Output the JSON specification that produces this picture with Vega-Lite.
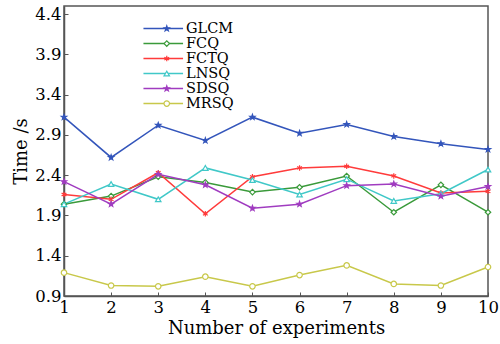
{
 "$schema": "https://vega.github.io/schema/vega-lite/v6.json",
 "width": 424,
 "height": 290,
 "autosize": {"type": "none"},
 "padding": {"left": 64, "top": 6, "right": 12, "bottom": 48},
 "background": "white",
 "config": {
  "view": {"stroke": "#555555", "strokeWidth": 1.5},
  "font": "DejaVu Serif",
  "axis": {
   "domainColor": "#555555", "domainWidth": 1.5, "tickColor": "#555555", "tickSize": -4, "tickWidth": 1,
   "labelFont": "DejaVu Serif", "labelFontSize": 16.5, "labelColor": "black", "labelFlush": false,
   "titleFont": "DejaVu Serif", "titleFontSize": 18, "titleFontWeight": "normal", "titleColor": "black",
   "grid": false
  }
 },
 "data": {"values": [
  {"x": 1, "series": "GLCM", "y": 3.12}, {"x": 2, "series": "GLCM", "y": 2.62}, {"x": 3, "series": "GLCM", "y": 3.02}, {"x": 4, "series": "GLCM", "y": 2.83}, {"x": 5, "series": "GLCM", "y": 3.12},
  {"x": 6, "series": "GLCM", "y": 2.92}, {"x": 7, "series": "GLCM", "y": 3.03}, {"x": 8, "series": "GLCM", "y": 2.88}, {"x": 9, "series": "GLCM", "y": 2.79}, {"x": 10, "series": "GLCM", "y": 2.72},
  {"x": 1, "series": "FCQ", "y": 2.04}, {"x": 2, "series": "FCQ", "y": 2.14}, {"x": 3, "series": "FCQ", "y": 2.38}, {"x": 4, "series": "FCQ", "y": 2.31}, {"x": 5, "series": "FCQ", "y": 2.19},
  {"x": 6, "series": "FCQ", "y": 2.25}, {"x": 7, "series": "FCQ", "y": 2.39}, {"x": 8, "series": "FCQ", "y": 1.94}, {"x": 9, "series": "FCQ", "y": 2.28}, {"x": 10, "series": "FCQ", "y": 1.94},
  {"x": 1, "series": "FCTQ", "y": 2.16}, {"x": 2, "series": "FCTQ", "y": 2.10}, {"x": 3, "series": "FCTQ", "y": 2.43}, {"x": 4, "series": "FCTQ", "y": 1.92}, {"x": 5, "series": "FCTQ", "y": 2.38},
  {"x": 6, "series": "FCTQ", "y": 2.49}, {"x": 7, "series": "FCTQ", "y": 2.51}, {"x": 8, "series": "FCTQ", "y": 2.39}, {"x": 9, "series": "FCTQ", "y": 2.18}, {"x": 10, "series": "FCTQ", "y": 2.20},
  {"x": 1, "series": "LNSQ", "y": 2.04}, {"x": 2, "series": "LNSQ", "y": 2.29}, {"x": 3, "series": "LNSQ", "y": 2.10}, {"x": 4, "series": "LNSQ", "y": 2.49}, {"x": 5, "series": "LNSQ", "y": 2.34},
  {"x": 6, "series": "LNSQ", "y": 2.16}, {"x": 7, "series": "LNSQ", "y": 2.35}, {"x": 8, "series": "LNSQ", "y": 2.08}, {"x": 9, "series": "LNSQ", "y": 2.17}, {"x": 10, "series": "LNSQ", "y": 2.47},
  {"x": 1, "series": "SDSQ", "y": 2.32}, {"x": 2, "series": "SDSQ", "y": 2.04}, {"x": 3, "series": "SDSQ", "y": 2.41}, {"x": 4, "series": "SDSQ", "y": 2.28}, {"x": 5, "series": "SDSQ", "y": 1.99},
  {"x": 6, "series": "SDSQ", "y": 2.04}, {"x": 7, "series": "SDSQ", "y": 2.27}, {"x": 8, "series": "SDSQ", "y": 2.29}, {"x": 9, "series": "SDSQ", "y": 2.14}, {"x": 10, "series": "SDSQ", "y": 2.26},
  {"x": 1, "series": "MRSQ", "y": 1.19}, {"x": 2, "series": "MRSQ", "y": 1.03}, {"x": 3, "series": "MRSQ", "y": 1.02}, {"x": 4, "series": "MRSQ", "y": 1.14}, {"x": 5, "series": "MRSQ", "y": 1.02},
  {"x": 6, "series": "MRSQ", "y": 1.16}, {"x": 7, "series": "MRSQ", "y": 1.28}, {"x": 8, "series": "MRSQ", "y": 1.05}, {"x": 9, "series": "MRSQ", "y": 1.03}, {"x": 10, "series": "MRSQ", "y": 1.26}
 ]},
 "encoding": {
  "x": {"field": "x", "type": "quantitative", "scale": {"domain": [1, 10], "nice": false},
        "axis": {"values": [1, 2, 3, 4, 5, 6, 7, 8, 9, 10], "title": "Number of experiments", "labelPadding": 7, "titlePadding": 4}},
  "y": {"field": "y", "type": "quantitative", "scale": {"domain": [0.9, 4.5], "nice": false, "zero": false},
        "axis": {"values": [0.9, 1.4, 1.9, 2.4, 2.9, 3.4, 3.9, 4.4], "format": ".1f", "title": "Time /s", "labelPadding": 7, "titlePadding": 4}}
 },
 "layer": [
  {
   "mark": {"type": "line", "strokeWidth": 1.5},
   "encoding": {
    "color": {"field": "series", "type": "nominal",
     "sort": ["GLCM", "FCQ", "FCTQ", "LNSQ", "SDSQ", "MRSQ"],
     "scale": {"range": ["#3355bb", "#3a9a3a", "#ff3b3b", "#40c8c8", "#a03cc0", "#c8c84a"]},
     "legend": {"orient": "none", "legendX": 92, "legendY": 15.3, "title": null, "padding": 0,
      "symbolType": "M-3.3,0H3.3", "symbolSize": 144, "symbolStrokeWidth": 1.5,
      "labelFontSize": 14.5, "labelOffset": 15.5, "rowPadding": 0, "labelFont": "DejaVu Serif", "labelColor": "black"}}
   }
  },
  {
   "mark": {"type": "point", "filled": false, "size": 30, "strokeWidth": 1.2, "opacity": 1},
   "encoding": {
    "stroke": {"field": "series", "type": "nominal",
     "scale": {"domain": ["GLCM", "FCQ", "FCTQ", "LNSQ", "SDSQ", "MRSQ"], "range": ["#3355bb", "#3a9a3a", "#ff3b3b", "#40c8c8", "#a03cc0", "#c8c84a"]},
     "legend": {"orient": "none", "legendX": 95.5, "legendY": 15.3, "title": null, "padding": 0, "symbolSize": 30,
      "labelFontSize": 14.5, "rowPadding": 0, "labelExpr": "''", "symbolStrokeWidth": 1.2,
      "encode": {"symbols": {"update": {"fill": {"scale": "fill", "field": "value"}}}}}},
    "shape": {"field": "series", "type": "nominal",
     "scale": {"domain": ["GLCM", "FCQ", "FCTQ", "LNSQ", "SDSQ", "MRSQ"],
      "range": ["M0,-1L0.235,-0.324L0.951,-0.309L0.38,0.124L0.588,0.809L0,0.4L-0.588,0.809L-0.38,0.124L-0.951,-0.309L-0.235,-0.324Z", "diamond", "M0,-1V1M-0.87,-0.5L0.87,0.5M-0.87,0.5L0.87,-0.5", "triangle-up", "M0,-1L0.235,-0.324L0.951,-0.309L0.38,0.124L0.588,0.809L0,0.4L-0.588,0.809L-0.38,0.124L-0.951,-0.309L-0.235,-0.324Z", "circle"]},
     "legend": {"orient": "none", "legendX": 95.5, "legendY": 15.3, "title": null, "padding": 0, "symbolSize": 30,
      "labelFontSize": 14.5, "rowPadding": 0, "labelExpr": "''", "symbolStrokeWidth": 1.2,
      "encode": {"symbols": {"update": {"fill": {"scale": "fill", "field": "value"}}}}}},
    "fill": {"field": "series", "type": "nominal",
     "scale": {"domain": ["GLCM", "FCQ", "FCTQ", "LNSQ", "SDSQ", "MRSQ"], "range": ["#3355bb", "#ffffff", "#ff3b3b", "#ffffff", "#a03cc0", "#ffffff"]},
     "legend": null}
   }
  }
 ]
}
